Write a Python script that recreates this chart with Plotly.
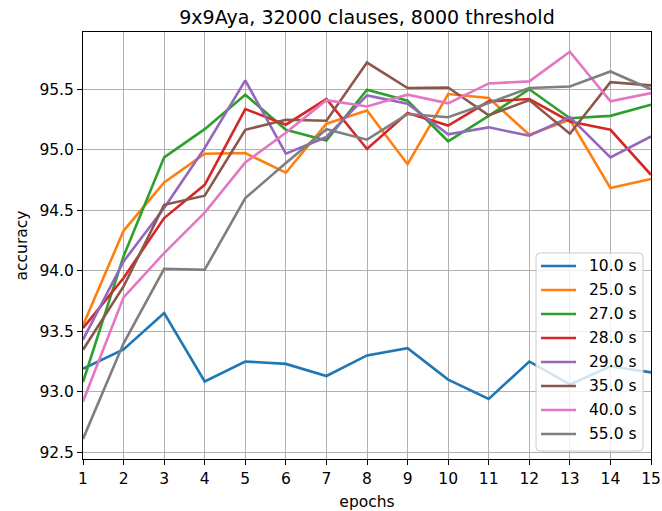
import plotly.graph_objects as go

epochs = list(range(1, 16))

labels = ["10.0 s", "25.0 s", "27.0 s", "28.0 s", "29.0 s", "35.0 s", "40.0 s", "55.0 s"]
colors = ["#1f77b4", "#ff7f0e", "#2ca02c", "#d62728", "#9467bd", "#8c564b", "#e377c2", "#7f7f7f"]

acc_10 = [93.19, 93.35, 93.65, 93.085, 93.25, 93.23, 93.13, 93.30, 93.36, 93.10, 92.94, 93.25, 93.06, 93.21, 93.16]
acc_25 = [93.55, 94.33, 94.73, 94.967, 94.973, 94.81, 95.215, 95.325, 94.88, 95.46, 95.427, 95.124, 95.248, 94.683, 94.758]
acc_27 = [93.08, 94.12, 94.937, 95.17, 95.455, 95.165, 95.077, 95.496, 95.405, 95.07, 95.28, 95.50, 95.26, 95.28, 95.372]
acc_28 = [93.526, 93.94, 94.435, 94.71, 95.336, 95.207, 95.419, 95.006, 95.303, 95.20, 95.40, 95.419, 95.234, 95.165, 94.793]
acc_29 = [93.43, 94.077, 94.518, 95.014, 95.573, 94.967, 95.105, 95.449, 95.38, 95.127, 95.185, 95.116, 95.27, 94.937, 95.11]
acc_35 = [93.347, 93.87, 94.545, 94.62, 95.165, 95.248, 95.24, 95.72, 95.51, 95.514, 95.285, 95.41, 95.132, 95.559, 95.532]
acc_40 = [92.92, 93.78, 94.146, 94.48, 94.895, 95.14, 95.41, 95.358, 95.455, 95.383, 95.548, 95.565, 95.81, 95.40, 95.468]
acc_55 = [92.61, 93.4, 94.016, 94.008, 94.60, 94.89, 95.17, 95.083, 95.295, 95.268, 95.386, 95.51, 95.523, 95.647, 95.50]

series = [acc_10, acc_25, acc_27, acc_28, acc_29, acc_35, acc_40, acc_55]

FONT = "DejaVu Sans"
W, H = 662, 511
ML, MR, MT, MB = 83, 11, 32, 52
PW, PH = W - ML - MR, H - MT - MB
RIGHT = W - MR  # right edge of plot area in pixels


def px_x(p):
    return (p - ML) / PW


def px_y(p):
    return (H - MB - p) / PH


fig = go.Figure()
for lab, col, ys in zip(labels, colors, series):
    fig.add_trace(go.Scatter(x=epochs, y=ys, mode="lines", name=lab,
                             line=dict(color=col, width=2.6), showlegend=False))

axis_common = dict(
    showline=True, linecolor="black", linewidth=1, mirror=True,
    ticks="outside", ticklen=5, tickcolor="black", tickwidth=1,
    showgrid=True, gridcolor="#b0b0b0", gridwidth=1,
    zeroline=False, automargin=False,
    tickfont=dict(family=FONT, size=15.5, color="black"),
)

# legend box (matplotlib style), placed relative to the plot's right edge
bx1 = RIGHT - 8
bx0 = bx1 - 107
by0, by1, r = 253, 451, 4
path = (f"M {px_x(bx0 + r)},{px_y(by0)} L {px_x(bx1 - r)},{px_y(by0)} "
        f"Q {px_x(bx1)},{px_y(by0)} {px_x(bx1)},{px_y(by0 + r)} "
        f"L {px_x(bx1)},{px_y(by1 - r)} Q {px_x(bx1)},{px_y(by1)} {px_x(bx1 - r)},{px_y(by1)} "
        f"L {px_x(bx0 + r)},{px_y(by1)} Q {px_x(bx0)},{px_y(by1)} {px_x(bx0)},{px_y(by1 - r)} "
        f"L {px_x(bx0)},{px_y(by0 + r)} Q {px_x(bx0)},{px_y(by0)} {px_x(bx0 + r)},{px_y(by0)} Z")
shapes = [dict(type="path", path=path, xref="paper", yref="paper", layer="above",
               fillcolor="rgba(255,255,255,0.8)", line=dict(color="#cccccc", width=1))]
annotations = []
for i, (lab, col) in enumerate(zip(labels, colors)):
    yc = 266 + 24 * i
    shapes.append(dict(type="line", xref="paper", yref="paper", layer="above",
                       x0=px_x(bx0 + 5), x1=px_x(bx0 + 40), y0=px_y(yc), y1=px_y(yc),
                       line=dict(color=col, width=2.6)))
    annotations.append(dict(text=lab, xref="paper", yref="paper", x=px_x(bx0 + 51), y=px_y(yc),
                            xanchor="left", yanchor="middle", showarrow=False,
                            font=dict(family=FONT, size=15.5, color="black")))

fig.update_layout(
    width=W, height=H,
    margin=dict(l=ML, r=MR, t=MT, b=MB, autoexpand=False),
    paper_bgcolor="white", plot_bgcolor="white",
    font=dict(family=FONT, size=15.5, color="black"),
    title=dict(text="9x9Aya, 32000 clauses, 8000 threshold", xref="paper", x=0.5, xanchor="center",
               y=0.966, yanchor="middle", font=dict(family=FONT, size=19, color="black")),
    xaxis=dict(range=[1, 15], tickmode="linear", tick0=1, dtick=1, ticklabeloverflow="allow",
               title=dict(text="epochs", font=dict(family=FONT, size=15.5), standoff=9),
               **axis_common),
    yaxis=dict(range=[92.444, 95.973], tickmode="linear", tick0=92.5, dtick=0.5, tickformat=".1f",
               title=dict(text="accuracy", font=dict(family=FONT, size=15.5), standoff=7),
               **axis_common),
    shapes=shapes,
    annotations=annotations,
    showlegend=False,
)

fig.write_html("out.html")
